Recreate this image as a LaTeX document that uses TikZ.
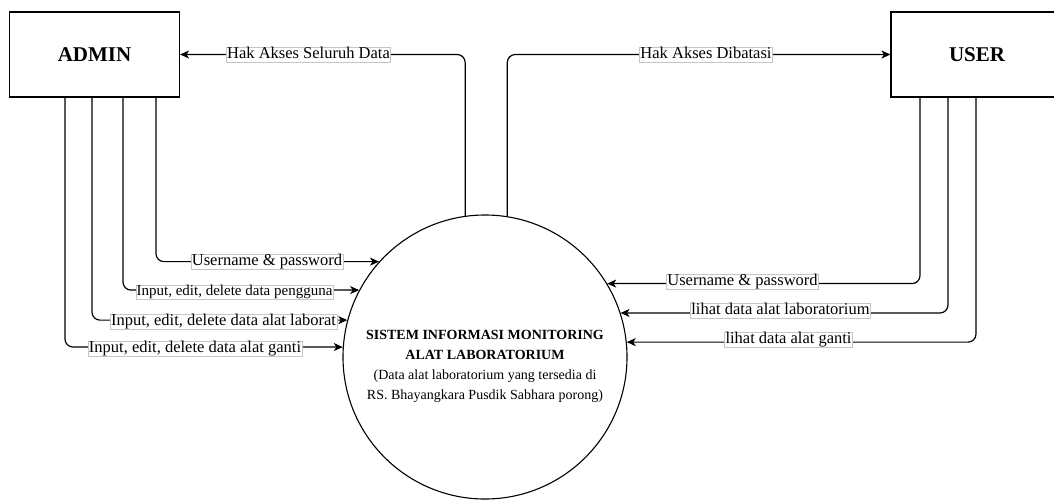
\documentclass[tikz,border=0pt]{standalone}
\usepackage{fontspec}
\setmainfont{Liberation Serif}
\usetikzlibrary{arrows.meta}
\begin{document}
\begin{tikzpicture}[x=1pt,y=-1pt,
  entity/.style={draw,line width=1.1pt,minimum height=85pt,inner sep=0pt,font=\fontsize{21}{24}\selectfont\bfseries},
  proc/.style={draw,circle,line width=1.1pt,minimum size=284pt,inner sep=0pt},
  flow/.style={line width=1.2pt,rounded corners=8pt,-{Stealth[length=9pt,width=8pt,inset=2.5pt]}},
  lbl/.style={draw=gray!45,line width=0.5pt,fill=white,inner xsep=0.8pt,inner ysep=0pt,text height=11.5pt,text depth=3.8pt,font=\fontsize{16.5}{18}\selectfont},
  lblsm/.style={lbl,font=\fontsize{15}{17}\selectfont,text height=10.5pt,text depth=3.5pt},
  proctext/.style={align=center,font=\fontsize{14}{20}\selectfont,inner sep=0pt}
]
\useasboundingbox (0,0) rectangle (1054,499);

\node[entity,minimum width=170pt] (admin) at (94.5,54.5) {ADMIN};
\node[entity,minimum width=172pt] (user) at (977,54.5) {USER};
\node[proc] (sys) at (485,357) {};
\node[proctext] (systxt) at ([yshift=-9pt]sys.center) {\textbf{SISTEM INFORMASI MONITORING}\\\textbf{ALAT LABORATORIUM}\\(Data alat laboratorium yang tersedia di\\RS. Bhayangkara Pusdik Sabhara porong)};

% top connectors
\draw[flow] (sys.98.9) |- (admin.east);
\draw[flow] (sys.81.1) |- (user.west);

% admin to system
\draw[flow] (admin.south -| 156,0) |- (sys.138);
\draw[flow] (admin.south -| 123,0) |- (sys.152.8);
\draw[flow] (admin.south -| 92,0) |- (sys.165.7);
\draw[flow] (admin.south -| 65,0) |- (sys.176.8);

% user to system
\draw[flow] (user.south -| 920,0) |- (sys.31.9);
\draw[flow] (user.south -| 948,0) |- (sys.18.9);
\draw[flow] (user.south -| 976,0) |- (sys.6.9);

% labels
\node[lbl] (la) at (308.5,54.5) {Hak Akses Seluruh Data};
\node[lbl] (lb) at (706,54.5) {Hak Akses Dibatasi};
\node[lbl] (lc) at (267,262) {Username \& password};
\node[lblsm] (ld) at (234.5,292) {Input, edit, delete data pengguna};
\node[lbl] (le) at (223.5,322) {Input, edit, delete data alat laborat};
\node[lbl] (lf) at (195,349) {Input, edit, delete data alat ganti};
\node[lbl] (lg) at (742.5,282) {Username \& password};
\node[lbl] (lh) at (780.5,311) {lihat data alat laboratorium};
\node[lbl] (li) at (788.5,340) {lihat data alat ganti};
\end{tikzpicture}
\end{document}
